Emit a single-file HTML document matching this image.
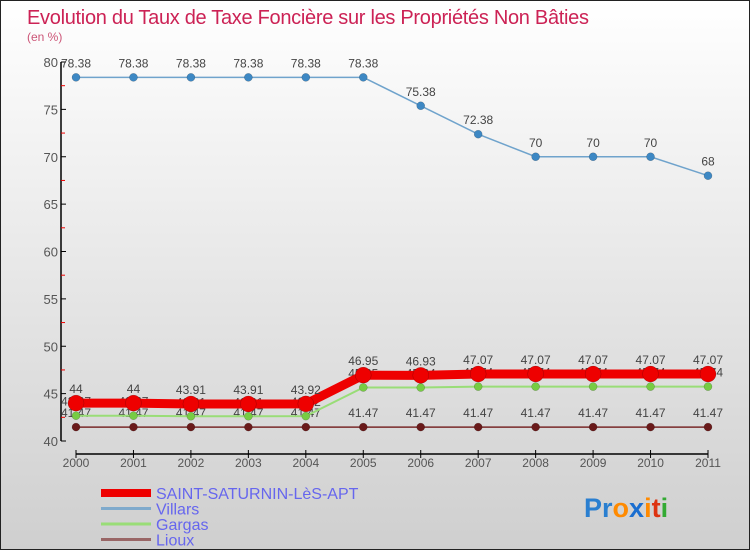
<!DOCTYPE html>
<html><head><meta charset="utf-8"><style>
body{margin:0}
#wrap{width:750px;height:550px;position:relative;background:linear-gradient(#ffffff,#cfcfcf);font-family:"Liberation Sans",sans-serif;overflow:hidden;box-sizing:border-box;border:1px solid #222}
svg text{font-family:"Liberation Sans",sans-serif}
</style></head><body>
<div id="wrap">
<svg id="c" width="750" height="550">
<text x="26" y="23" font-size="20" fill="#cc2255" textLength="562">Evolution du Taux de Taxe Foncière sur les Propriétés Non Bâties</text>
<text x="26" y="40" font-size="12" fill="#cc5577">(en %)</text>
<g id="axes"></g><g id="series"></g><g id="legend"></g>
<text x="583" y="516" font-size="27" font-weight="bold"><tspan fill="#2a7fd0">Pr</tspan><tspan fill="#ff8a00">o</tspan><tspan fill="#1a6ed0">x</tspan><tspan fill="#ff8a00">i</tspan><tspan fill="#dd3311">t</tspan><tspan fill="#33aa33">i</tspan></text>
</svg></div>
<script>
const years=[2000,2001,2002,2003,2004,2005,2006,2007,2008,2009,2010,2011];
const yTicks=[40,45,50,55,60,65,70,75,80];
const saint=[44,44,43.91,43.91,43.92,46.95,46.93,47.07,47.07,47.07,47.07,47.07];
const villars=[78.38,78.38,78.38,78.38,78.38,78.38,75.38,72.38,70,70,70,68];
const gargas=[42.67,42.67,42.61,42.61,42.62,45.65,45.64,45.74,45.74,45.74,45.74,45.74];
const lioux=[41.47,41.47,41.47,41.47,41.47,41.47,41.47,41.47,41.47,41.47,41.47,41.47];
const NS="http://www.w3.org/2000/svg";
const X=i=>75+i*(707-75)/11;
const Y=v=>440-(v-40)*(440-61)/40;
function mk(t,a,p){const e=document.createElementNS(NS,t);for(const k in a)e.setAttribute(k,a[k]);p.appendChild(e);return e;}
const ax=document.getElementById('axes');
let e=mk('line',{x1:60,y1:61,x2:60,y2:440,stroke:'#000','stroke-width':1.5},ax);

yTicks.forEach(v=>{mk('line',{x1:60,x2:65,y1:Y(v),y2:Y(v),stroke:'#000'},ax);
 if(v<80)mk('line',{x1:60,x2:64,y1:Y(v+2.5),y2:Y(v+2.5),stroke:'#e00'},ax);
 const t=mk('text',{x:57,y:Y(v)+5,'font-size':13,fill:'#555','text-anchor':'end'},ax);t.textContent=v;
 });
e=mk('line',{x1:75,y1:453,x2:707,y2:453,stroke:'#000','stroke-width':1.5},ax);

years.forEach((y,i)=>{mk('line',{x1:X(i),x2:X(i),y1:449,y2:457,stroke:'#000'},ax);
 const t=mk('text',{x:X(i),y:466,'font-size':12,fill:'#555','text-anchor':'middle'},ax);t.textContent=y;
 });
const sg=document.getElementById('series');
function draw(d,name,col,w,r,lc){
 const g=mk('g',{},sg);
 const l=mk('polyline',{points:d.map((v,i)=>X(i)+','+Y(v)).join(' '),fill:'none',stroke:col,'stroke-width':w},g);
 
 d.forEach((v,i)=>{const c=mk('circle',{cx:X(i),cy:Y(v),r:r,fill:lc,stroke:'rgba(0,0,0,0.3)','stroke-width':0.5},g);
  
  const t=mk('text',{x:X(i),y:Y(v)-10,'font-size':12,fill:'#444','text-anchor':'middle'},g);t.textContent=v;
  });
}
draw(lioux,'lioux','#7a2a2a',1.5,4,'#6a1a1a');
draw(gargas,'gargas','#99dd77',2,4,'#77cc44');
draw(villars,'villars','#6fa3cc',1.5,4,'#3d88c4');
draw(saint,'saint-saturnin','#ee0000',9,8,'#ee0000');
const lg=document.getElementById('legend');
[['SAINT-SATURNIN-LèS-APT','#ee0000',8],['Villars','#7faacc',3],['Gargas','#99dd77',3],['Lioux','#996666',3]].forEach((s,i)=>{
 const y=492+i*15.5;
 const l=mk('line',{x1:100,x2:150,y1:y,y2:y,stroke:s[1],'stroke-width':s[2]},lg);
 
 const t=mk('text',{x:155,y:y+6,'font-size':16,fill:'#6666ee'},lg);t.textContent=s[0];
 
});
</script></body></html>
